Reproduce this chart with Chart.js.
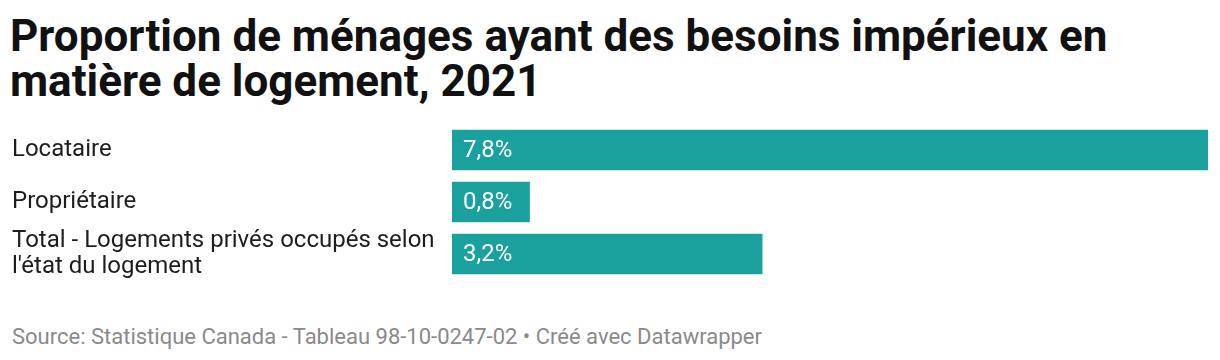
<!DOCTYPE html>
<html>
<head>
<meta charset="utf-8">
<script src="https://cdn.jsdelivr.net/npm/chart.js@4"></script>
<style>
  body { margin: 0; width: 1220px; height: 360px; background: #fff; font-family: Roboto, sans-serif; position: relative; overflow: hidden; }
  h1 { position: absolute; left: 10px; top: 14px; margin: 0; font-size: 44px; line-height: 45px; font-weight: 700; color: #111; width: 1200px; }
  #wrap { position: absolute; left: 12px; top: 124px; width: 1196px; height: 156px; }
  .source { position: absolute; left: 12px; top: 324px; font-size: 22px; line-height: 26px; color: #8a8a8a; }
</style>
</head>
<body>
<h1>Proportion de ménages ayant des besoins impérieux en matière de logement, 2021</h1>
<div id="wrap"><canvas id="myChart"></canvas></div>
<div class="source">Source: Statistique Canada - Tableau 98-10-0247-02 • Créé avec Datawrapper</div>
<script>
var categories = [
    'Locataire',
    'Propriétaire',
    ['Total - Logements privés occupés selon', "l'état du logement"]
]
var values = [7.8, 0.8, 3.2]

function fmt(v) {
    return v.toFixed(1).replace('.', ',') + '%'
}

var valueLabels = {
    id: 'valueLabels',
    afterDatasetsDraw: function(chart) {
        var ctx = chart.ctx
        var meta = chart.getDatasetMeta(0)
        ctx.save()
        ctx.fillStyle = '#ffffff'
        ctx.font = '24px Roboto'
        ctx.textBaseline = 'middle'
        meta.data.forEach(function(bar, i) {
            ctx.fillText(fmt(values[i]), bar.base + 11, bar.y + 1)
        })
        ctx.restore()
    }
}

var ctx = document.getElementById('myChart')
var myChart = new Chart(ctx, {
    type: 'bar',
    data: {
        labels: categories,
        datasets: [{
            data: values,
            backgroundColor: '#1aa19d',
            barThickness: 40
        }]
    },
    options: {
        indexAxis: 'y',
        responsive: true,
        maintainAspectRatio: false,
        animation: false,
        layout: { padding: 0 },
        plugins: {
            legend: { display: false },
            tooltip: { enabled: false }
        },
        scales: {
            x: {
                display: false,
                min: 0,
                max: 7.8
            },
            y: {
                grid: { display: false },
                border: { display: false },
                ticks: {
                    autoSkip: false,
                    crossAlign: 'far',
                    color: '#1d1d1d',
                    padding: 0,
                    font: { family: 'Roboto', size: 24, lineHeight: 1.05 }
                },
                afterFit: function(scale) {
                    scale.width = 440
                    scale.paddingTop = 0
                    scale.paddingBottom = 0
                }
            }
        }
    },
    plugins: [valueLabels]
})
</script>
</body>
</html>
